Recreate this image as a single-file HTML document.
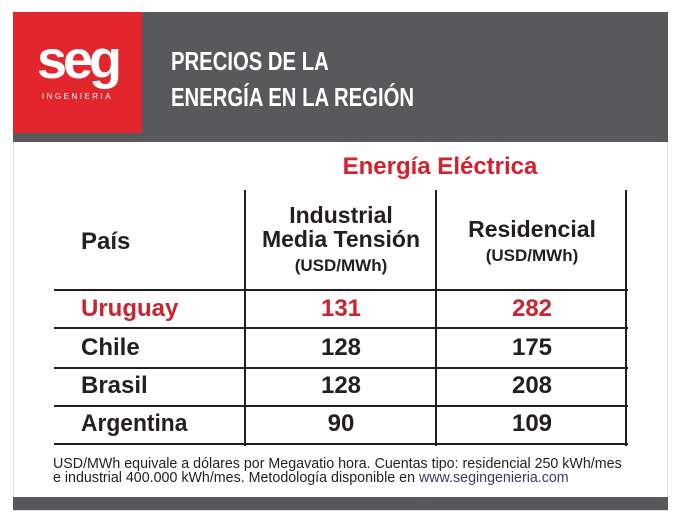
<!DOCTYPE html>
<html><head><meta charset="utf-8"><style>
body{margin:0;width:680px;height:521px;background:#fff;position:relative;overflow:hidden;font-family:"Liberation Sans",sans-serif;font-weight:bold;color:#231f20}
.a{position:absolute;white-space:nowrap}
.c{text-align:center}
.hl{position:absolute;background:#231f20;height:2px;left:54px;width:574px}
.vl{position:absolute;background:#231f20;width:2px;top:190px;height:256px}
</style></head><body>
<div class="a" style="left:13px;top:12px;width:655px;height:499px;background:#fff;border:1px solid #e2e2e2;box-sizing:border-box"></div>
<div class="a" style="left:13px;top:12px;width:655px;height:130px;background:#59595b"></div>
<div class="a" style="left:13px;top:12px;width:129px;height:121px;background:#e3262d"></div>
<div class="a c" style="left:13px;top:30px;width:129px;font-size:54px;color:#fff;letter-spacing:-4px;line-height:60px">seg</div>
<div class="a c" style="left:13px;top:92px;width:129px;font-weight:normal;font-size:8px;color:#fff;letter-spacing:2.5px">INGENIERIA</div>
<div class="a" style="left:171px;top:43px;font-size:26px;color:#fff;line-height:36px;transform:scaleX(0.78);transform-origin:left">PRECIOS DE LA<br>ENERGÍA EN LA REGIÓN</div>
<div class="a c" style="left:245px;top:153px;width:390px;font-size:24px;color:#d6202b">Energía Eléctrica</div>
<div class="vl" style="left:244px"></div><div class="vl" style="left:435px"></div><div class="vl" style="left:625px"></div>
<div class="hl" style="top:289px"></div><div class="hl" style="top:327px"></div><div class="hl" style="top:367px"></div><div class="hl" style="top:405px"></div><div class="hl" style="top:443px"></div>
<div class="a" style="left:81px;top:228px;font-size:24px">País</div>
<div class="a c" style="left:246px;top:203px;width:190px;font-size:23px;line-height:24px">Industrial<br>Media Tensión<br><span style="font-size:17px">(USD/MWh)</span></div>
<div class="a c" style="left:437px;top:217px;width:190px;font-size:23px;line-height:24px">Residencial<br><span style="font-size:17px">(USD/MWh)</span></div>
<div class="a" style="left:81px;top:295px;font-size:24px;color:#c9252f">Uruguay</div>
<div class="a c" style="left:246px;top:295px;width:190px;font-size:24px;color:#c9252f">131</div>
<div class="a c" style="left:437px;top:295px;width:190px;font-size:24px;color:#c9252f">282</div>
<div class="a" style="left:81px;top:334px;font-size:24px">Chile</div>
<div class="a c" style="left:246px;top:334px;width:190px;font-size:24px">128</div>
<div class="a c" style="left:437px;top:334px;width:190px;font-size:24px">175</div>
<div class="a" style="left:81px;top:372px;font-size:24px">Brasil</div>
<div class="a c" style="left:246px;top:372px;width:190px;font-size:24px">128</div>
<div class="a c" style="left:437px;top:372px;width:190px;font-size:24px">208</div>
<div class="a" style="left:81px;top:410px;font-size:24px;transform:scaleX(0.95);transform-origin:left">Argentina</div>
<div class="a c" style="left:246px;top:410px;width:190px;font-size:24px">90</div>
<div class="a c" style="left:437px;top:410px;width:190px;font-size:24px">109</div>
<div class="a" style="left:53px;top:457px;font-size:15px;font-weight:normal;line-height:14px;transform:scaleX(0.95);transform-origin:left">USD/MWh equivale a dólares por Megavatio hora. Cuentas tipo: residencial 250 kWh/mes<br>e industrial 400.000 kWh/mes. Metodología disponible en <span style="color:#3a3a6a">www.segingenieria.com</span></div>
<div class="a" style="left:13px;top:497px;width:655px;height:13px;background:#59595b"></div>
</body></html>
